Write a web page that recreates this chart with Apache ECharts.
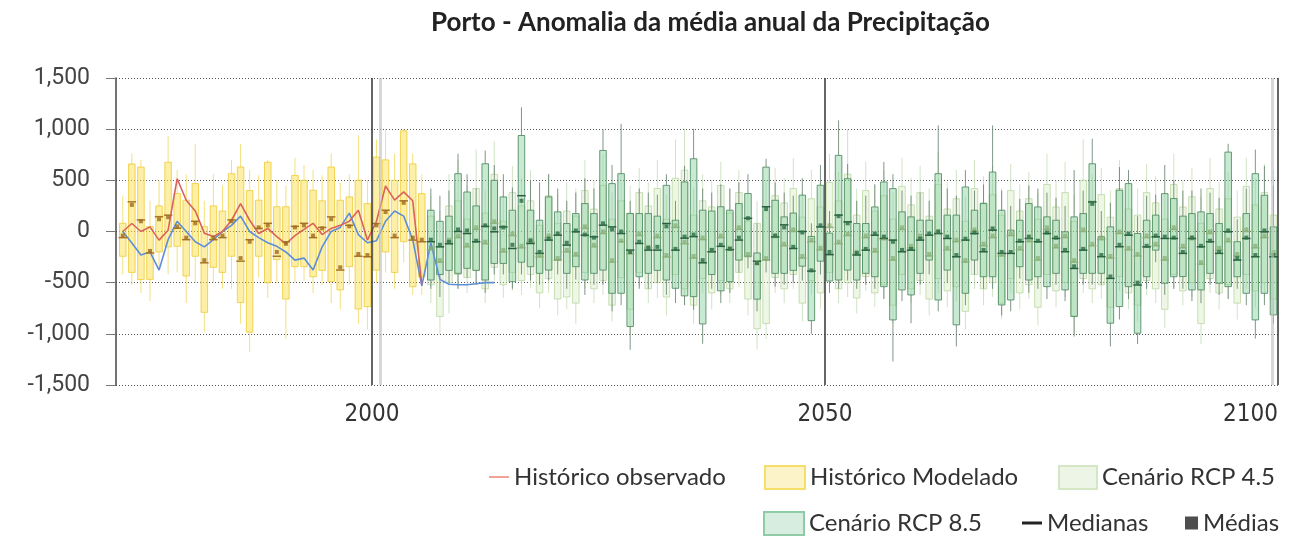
<!DOCTYPE html>
<html>
<head>
<meta charset="utf-8">
<script src="https://cdn.jsdelivr.net/npm/echarts@6/dist/echarts.min.js"></script>
<style>html,body{margin:0;padding:0;background:#fff;}#c{width:1316px;height:540px;}</style>
</head>
<body>
<div id="c"></div>
<script>
// ---- DATA ----
const histStartYear = 1972;   // Histórico Modelado: 1972-2005
const rcpStartYear = 2006;    // cenários: 2006-2099
const obsStartYear = 1972;
const yTicks = [-1500, -1000, -500, 0, 500, 1000, 1500];
const xTickLabels = [2000, 2050, 2100];
const decadeLines = [2000, 2050, 2100];
const greyRefLines = [2000.9, 2099.4];

// rows: [min, Q1, median, Q3, max, mean]
const histModelado = [
  [-420,-242,-60,80,350,-40],[-520,-400,290,660,760,260],[-600,-470,113,630,700,100],[-680,-468,-210,48,300,-190],
  [-350,-200,145,250,500,120],[-420,-150,160,677,935,140],[-400,-145,32,371,600,50],[-700,-435,-80,306,560,-60],
  [-500,-242,100,468,855,80],[-984,-790,-306,48,300,-280],[-500,-350,-80,250,560,-60],[-560,-400,-60,200,450,-40],
  [-560,-242,113,565,700,100],[-900,-694,-290,630,855,-260],[-1177,-984,-80,400,600,-100],[-450,-242,30,306,550,40],
  [-650,-500,80,677,700,60],[-500,-274,-242,242,500,-200],[-1048,-660,-100,242,450,-120],[-500,-344,50,548,720,40],
  [-480,-344,80,500,650,60],[-600,-442,-60,403,600,-40],[-520,-380,40,300,550,30],[-700,-490,143,630,760,120],
  [-760,-571,-377,305,480,-350],[-520,-344,60,338,560,50],[-900,-758,-242,500,938,-220],[-960,-734,-247,273,500,-230],
  [-500,-377,78,727,900,60],[-400,-200,208,700,1000,190],[-560,-400,-60,500,760,-40],[-300,-100,300,984,1000,280],
  [-620,-539,-84,661,760,-60],[-620,-442,-100,370,560,-80]
];

const rcp45 = [
  [-700,-520,-180,150,350,-160],[-1000,-830,-300,-150,200,-280],[-800,-500,-100,250,560,-80],[-560,-420,-60,300,700,-40],
  [-600,-450,-150,120,450,-130],[-520,-380,20,420,800,40],[-700,-560,-120,180,400,-100],[-480,-350,80,560,880,100],
  [-650,-520,-200,100,350,-180],[-580,-400,-40,380,640,-20],[-620,-480,-160,250,520,-140],[-550,-420,-100,300,600,-80],
  [-750,-600,-250,60,300,-230],[-600,-460,-60,350,560,-40],[-820,-660,-280,80,360,-260],[-760,-640,-200,200,480,-180],
  [-900,-700,-240,150,420,-220],[-560,-400,30,400,700,50],[-700,-560,-150,220,500,-130],[-620,-480,-20,450,760,0],
  [-880,-720,-300,120,380,-280],[-600,-450,-100,300,560,-90],[-1000,-760,-220,180,450,-200],[-540,-400,-40,380,620,-20],
  [-700,-560,-160,250,480,-150],[-650,-500,-60,420,700,-40],[-820,-640,-250,120,360,-230],[-560,-420,40,520,900,60],
  [-720,-560,-120,600,1000,-100],[-900,-720,-260,160,420,-240],[-600,-460,-80,300,560,-60],[-760,-600,-200,240,500,-180],
  [-620,-480,-60,450,680,-40],[-700,-560,-180,180,420,-160],[-540,-400,20,380,600,40],[-820,-660,-240,100,360,-220],
  [-1150,-950,-320,80,300,-300],[-1050,-900,-280,200,500,-260],[-600,-450,-60,350,620,-40],[-700,-560,-140,280,520,-120],
  [-560,-420,0,420,720,20],[-880,-700,-260,140,380,-240],[-620,-480,-100,320,600,-80],[-760,-600,-180,240,500,-160],
  [-540,-400,40,480,760,60],[-700,-560,-120,300,580,-100],[-640,-500,-40,560,1000,-20],[-800,-650,-220,160,420,-200],
  [-580,-440,-60,400,680,-40],[-740,-600,-200,200,460,-180],[-660,-520,-80,350,600,-60],[-900,-720,-280,120,380,-260],
  [-560,-420,20,440,720,40],[-700,-560,-160,260,520,-140],[-620,-480,-60,380,640,-40],[-820,-660,-240,150,420,-220],
  [-600,-460,-20,460,780,0],[-740,-580,-180,220,480,-160],[-680,-540,-100,320,600,-80],[-960,-780,-300,100,340,-280],
  [-560,-420,0,420,700,20],[-720,-560,-140,280,540,-120],[-640,-500,-60,360,640,-40],[-860,-700,-240,160,420,-220],
  [-600,-460,-40,400,660,-20],[-760,-600,-180,200,460,-160],[-660,-520,-100,320,580,-80],[-920,-740,-280,120,380,-260],
  [-560,-420,20,460,760,40],[-740,-580,-160,240,500,-140],[-640,-500,-60,380,680,-40],[-1000,-820,-300,100,360,-280],
  [-600,-460,0,500,900,20],[-700,-560,-140,300,560,-120],[-660,-520,-80,360,620,-60],[-900,-740,-260,140,400,-240],
  [-580,-440,-20,420,700,0],[-760,-600,-180,220,480,-160],[-880,-720,-240,160,420,-220],[-620,-480,-60,380,660,-40],
  [-700,-560,-140,280,540,-120],[-940,-760,-280,120,380,-260],[-560,-420,20,460,760,40],[-720,-580,-160,240,500,-140],
  [-640,-500,-80,340,620,-60],[-1100,-900,-320,80,340,-300],[-600,-460,-20,420,720,0],[-760,-600,-180,220,480,-160],
  [-660,-520,-100,320,580,-80],[-860,-700,-240,140,400,-220],[-560,-420,0,440,720,20],[-740,-580,-160,260,520,-140],
  [-640,-500,-60,380,660,-40],[-820,-660,-220,160,600,-200]
];

const rcp85 = [
  [-560,-474,-100,208,420,-80],[-640,-420,-150,100,350,-130],[-500,-380,-120,150,400,-100],[-560,-409,0,565,760,20],
  [-450,-360,-20,386,560,10],[-520,-380,-100,250,420,-90],[-600,-474,50,662,790,60],[-420,-312,-3,500,650,30],
  [-420,-312,45,338,560,40],[-560,-490,-166,208,430,-130],[-420,-300,350,938,1214,300],[-480,-344,-117,208,500,-90],
  [-520,-409,-214,110,480,-200],[-480,-377,-84,338,560,-70],[-420,-279,-36,192,420,-20],[-560,-409,-133,78,300,-110],
  [-470,-344,-3,175,380,10],[-620,-474,-36,273,520,-30],[-520,-409,-52,175,420,-60],[-520,-377,62,792,1000,80],
  [-780,-604,45,468,650,20],[-720,-604,-20,565,1052,0],[-1156,-929,-182,175,300,-200],[-560,-442,-117,175,420,-100],
  [-560,-409,-182,175,380,-160],[-500,-380,-182,150,360,-150],[-620,-474,78,451,560,50],[-700,-555,-182,110,300,-170],
  [-720,-629,-65,484,640,-50],[-766,-636,-50,711,1003,-30],[-1097,-903,-306,208,420,-280],[-560,-420,-198,200,380,-180],
  [-700,-580,-145,242,460,-130],[-600,-490,-177,208,420,-170],[-400,-279,-84,273,480,-60],[-360,-246,129,371,560,130],
  [-780,-661,-290,-210,80,-310],[-400,-279,242,629,710,220],[-540,-409,-52,305,480,-40],[-520,-409,65,143,380,40],
  [-500,-380,-166,180,350,-150],[-480,-339,0,355,520,-10],[-1000,-871,-387,-48,80,-380],[-420,-290,45,452,650,60],
  [-600,-484,-226,-16,200,-200],[-560,-474,160,744,1085,150],[-480,-377,94,516,660,80],[-560,-474,-230,78,300,-210],
  [-520,-409,-182,78,350,-170],[-560,-442,-36,240,460,-20],[-660,-539,-68,484,680,-50],[-1270,-864,-84,419,560,-100],
  [-680,-571,-198,192,400,-180],[-896,-620,-182,143,350,-170],[-520,-409,-84,110,380,-70],[-420,-279,-36,110,300,-20],
  [-780,-669,-20,565,1036,0],[-500,-377,-68,160,420,-50],[-1123,-912,-247,160,350,-230],[-720,-604,-84,435,600,-70],
  [-420,-279,-20,208,400,-10],[-560,-442,-198,273,460,-180],[-560,-442,13,581,1036,30],[-820,-718,-214,208,400,-200],
  [-780,-669,-214,13,250,-200],[-460,-344,-100,110,320,-90],[-600,-474,-68,273,450,-50],[-560,-442,-100,240,420,-90],
  [-660,-539,-20,143,380,-10],[-520,-409,-68,110,330,-60],[-680,-571,-198,-3,250,-180],[-1026,-831,-361,143,600,-340],
  [-520,-409,-182,175,400,-170],[-520,-409,289,662,906,270],[-520,-409,-246,-52,200,-230],[-1123,-896,-458,45,280,-440],
  [-860,-734,-149,403,630,-130],[-660,-539,-36,468,600,-20],[-1100,-994,-523,-20,150,-500],[-560,-442,-150,110,350,-140],
  [-300,-182,-52,160,360,-40],[-620,-506,-68,370,650,-50],[-560,-442,-68,322,500,-60],[-560,-440,-214,150,400,-200],
  [-680,-571,-68,175,400,-60],[-700,-571,-149,192,420,-140],[-520,-409,-100,175,380,-90],[-620,-506,-214,78,330,-200],
  [-660,-539,-3,776,857,10],[-560,-442,-279,-100,120,-260],[-720,-604,-68,175,420,-60],[-1046,-864,-247,565,800,-230],
  [-720,-604,-3,354,640,10],[-900,-815,-247,45,450,-230]
];

// Histórico observado (1972-2005)
const obsRed = [0,78,0,45,-84,13,516,305,200,-16,-50,0,110,273,110,-20,30,-50,-120,-40,
  20,80,-30,30,60,100,208,-84,100,445,306,387,300,-516];
// outra série observada (1972-2013)
const obsBlue = [0,-113,-230,-200,-377,-80,100,0,-100,-150,-80,0,60,150,0,-60,-110,-145,-200,-280,
  -260,-377,-150,0,40,180,-30,-110,-90,100,200,150,-80,-530,-113,-468,-516,-520,-520,-510,-500,-500];

// ---- STYLE ----
const styles = {
  hist:  { fill: 'rgba(250,222,70,0.48)', border: 'rgba(238,200,40,0.75)', whisker: 'rgba(242,214,80,0.75)', median: '#a8752a', mean: '#9c6a1e' },
  r45:   { fill: 'rgba(205,232,180,0.35)', border: 'rgba(178,212,152,0.70)', whisker: 'rgba(185,212,165,0.65)', median: 'rgba(140,175,120,0.85)', mean: 'rgba(130,170,110,0.85)' },
  r85:   { fill: 'rgba(125,205,150,0.42)', border: 'rgba(78,138,98,0.85)', whisker: 'rgba(95,125,105,0.80)', median: '#2a5f3e', mean: '#2a6d45' }
};
const groupKeys = ['hist', 'r45', 'r85'];
const BOX_W = 0.72;

function toBoxData(rows, startYear) {
  // x at the centre of the year interval
  return rows.map((r, i) => [startYear + i + 0.5, r[0], r[1], r[2], r[3], r[4], r[5]]);
}
const histData = toBoxData(histModelado, histStartYear);
const r45Data = toBoxData(rcp45, rcpStartYear);
const r85Data = toBoxData(rcp85, rcpStartYear);

function boxRenderer(st) {
  return function (params, api) {
    const x = api.value(0);
    const pLo = api.coord([x, api.value(1)]);
    const pQ1 = api.coord([x, api.value(2)]);
    const pQ3 = api.coord([x, api.value(4)]);
    const pHi = api.coord([x, api.value(5)]);
    const w = api.size([1, 0])[0] * BOX_W;
    return {
      type: 'group',
      children: [
        { type: 'line', shape: { x1: pLo[0], y1: pLo[1], x2: pQ1[0], y2: pQ1[1] }, style: { stroke: st.whisker, lineWidth: 1 } },
        { type: 'line', shape: { x1: pQ3[0], y1: pQ3[1], x2: pHi[0], y2: pHi[1] }, style: { stroke: st.whisker, lineWidth: 1 } },
        { type: 'rect', shape: { x: pQ3[0] - w / 2, y: pQ3[1], width: w, height: pQ1[1] - pQ3[1] }, style: { fill: st.fill, stroke: st.border, lineWidth: 1 } }
      ]
    };
  };
}

const medianData = [];
const meanData = [];
[[histData, 0], [r45Data, 1], [r85Data, 2]].forEach(([d, g]) => {
  d.forEach(r => { medianData.push([r[0], r[3], g]); meanData.push([r[0], r[6], g]); });
});
// draw RCP4.5 first, then others on top
medianData.sort((a, b) => (a[2] === 1 ? 0 : 1) - (b[2] === 1 ? 0 : 1));
meanData.sort((a, b) => (a[2] === 1 ? 0 : 1) - (b[2] === 1 ? 0 : 1));

const redData = obsRed.map((v, i) => [obsStartYear + i + 0.5, v]);
const blueData = obsBlue.map((v, i) => [obsStartYear + i + 0.5, v]);

const font = "Lato, 'Open Sans', sans-serif";
const legendText = { fontFamily: font, fontSize: 24, color: '#333' };

const chart = echarts.init(document.getElementById('c'), null, { renderer: 'canvas' });
chart.setOption({
  animation: false,
  backgroundColor: '#fff',
  title: {
    text: 'Porto - Anomalia da média anual da Precipitação',
    left: 426, top: 5,
    textStyle: { fontFamily: font, fontWeight: 'bold', fontSize: 26, color: '#222' }
  },
  grid: { left: 116, right: 38, top: 78, bottom: 155 },
  xAxis: {
    type: 'value', min: 1971.75, max: 2100,
    axisLine: { show: false }, axisTick: { show: false }, splitLine: { show: false },
    axisLabel: {
      customValues: xTickLabels, alignMaxLabel: 'right', margin: 18,
      formatter: v => String(v),
      fontFamily: "'Liberation Sans Narrow', 'DejaVu Sans Condensed', Roboto, sans-serif", fontSize: 24, color: '#333'
    }
  },
  yAxis: {
    type: 'value', min: yTicks[0], max: yTicks[yTicks.length - 1], interval: 500,
    axisLine: { show: true, lineStyle: { color: '#444', width: 1.5 } },
    axisTick: { show: true, length: 10, lineStyle: { color: '#777' } },
    splitLine: { show: true, lineStyle: { color: '#555', type: [1, 2], width: 1 } },
    axisLabel: {
      margin: 26, fontFamily: "Roboto, sans-serif", fontSize: 23, color: '#444',
      formatter: v => v.toLocaleString('en-US')
    }
  },
  legend: [
    { left: 484, top: 460, itemWidth: 20, itemHeight: 14, selectedMode: false, textStyle: legendText,
      data: [{ name: 'Histórico observado', icon: 'path://M0,6 L20,6 L20,8 L0,8 Z', itemStyle: { color: '#f2a397' } }] },
    { left: 759, top: 460, itemWidth: 40, itemHeight: 23, selectedMode: false, textStyle: legendText,
      data: [{ name: 'Histórico Modelado', icon: 'rect', itemStyle: { color: '#fdf3c8', borderColor: '#f6df68', borderWidth: 2 } }] },
    { left: 1053, top: 460, itemWidth: 38, itemHeight: 23, selectedMode: false, textStyle: legendText,
      data: [{ name: 'Cenário RCP 4.5', icon: 'rect', itemStyle: { color: '#edf6e6', borderColor: '#d3e7c4', borderWidth: 2 } }] },
    { left: 758, top: 506, itemWidth: 40, itemHeight: 23, selectedMode: false, textStyle: legendText,
      data: [{ name: 'Cenário RCP 8.5', icon: 'rect', itemStyle: { color: '#d6ede0', borderColor: '#8fcba5', borderWidth: 2 } }] },
    { left: 1017, top: 506, itemWidth: 20, itemHeight: 3, selectedMode: false, textStyle: legendText,
      data: [{ name: 'Medianas', icon: 'rect', itemStyle: { color: '#222' } }] },
    { left: 1180, top: 506, itemWidth: 13, itemHeight: 13, selectedMode: false, textStyle: legendText,
      data: [{ name: 'Médias', icon: 'rect', itemStyle: { color: '#222' } }] }
  ],
  series: [
    { name: 'obsBlue', type: 'line', data: blueData, symbol: 'none', lineStyle: { color: '#5d8fd8', width: 1.6 }, z: 2 },
    { name: 'Histórico observado', type: 'line', data: redData, symbol: 'none', color: '#e0645e', lineStyle: { color: '#d9625d', width: 1.6 }, z: 2 },
    { name: 'Cenário RCP 4.5', type: 'custom', renderItem: boxRenderer(styles.r45), data: r45Data, encode: { x: 0, y: [1, 2, 3, 4, 5] }, z: 2 },
    { name: 'Histórico Modelado', type: 'custom', renderItem: boxRenderer(styles.hist), data: histData, encode: { x: 0, y: [1, 2, 3, 4, 5] }, z: 2 },
    { name: 'Cenário RCP 8.5', type: 'custom', renderItem: boxRenderer(styles.r85), data: r85Data, encode: { x: 0, y: [1, 2, 3, 4, 5] }, z: 2 },
    {
      name: 'Medianas', type: 'custom', data: medianData, encode: { x: 0, y: 1 }, z: 3,
      renderItem: function (params, api) {
        const p = api.coord([api.value(0), api.value(1)]);
        const w = api.size([1, 0])[0] * BOX_W + 2;
        return { type: 'line', shape: { x1: p[0] - w / 2, y1: p[1], x2: p[0] + w / 2, y2: p[1] },
          style: { stroke: styles[groupKeys[api.value(2)]].median, lineWidth: 1.5 } };
      },
      markLine: {
        silent: true, symbol: ['none', 'none'], label: { show: false },
        data: decadeLines.map(v => ({ xAxis: v, lineStyle: { color: '#333', width: 1.5, type: 'solid' } }))
          .concat(greyRefLines.map(v => ({ xAxis: v, lineStyle: { color: 'rgba(190,190,190,0.6)', width: 3, type: 'solid' } })))
      }
    },
    {
      name: 'Médias', type: 'scatter', data: meanData, symbol: 'rect', symbolSize: 4, z: 4,
      itemStyle: { color: p => styles[groupKeys[p.data[2]]].mean }
    }
  ]
});
</script>
</body>
</html>
